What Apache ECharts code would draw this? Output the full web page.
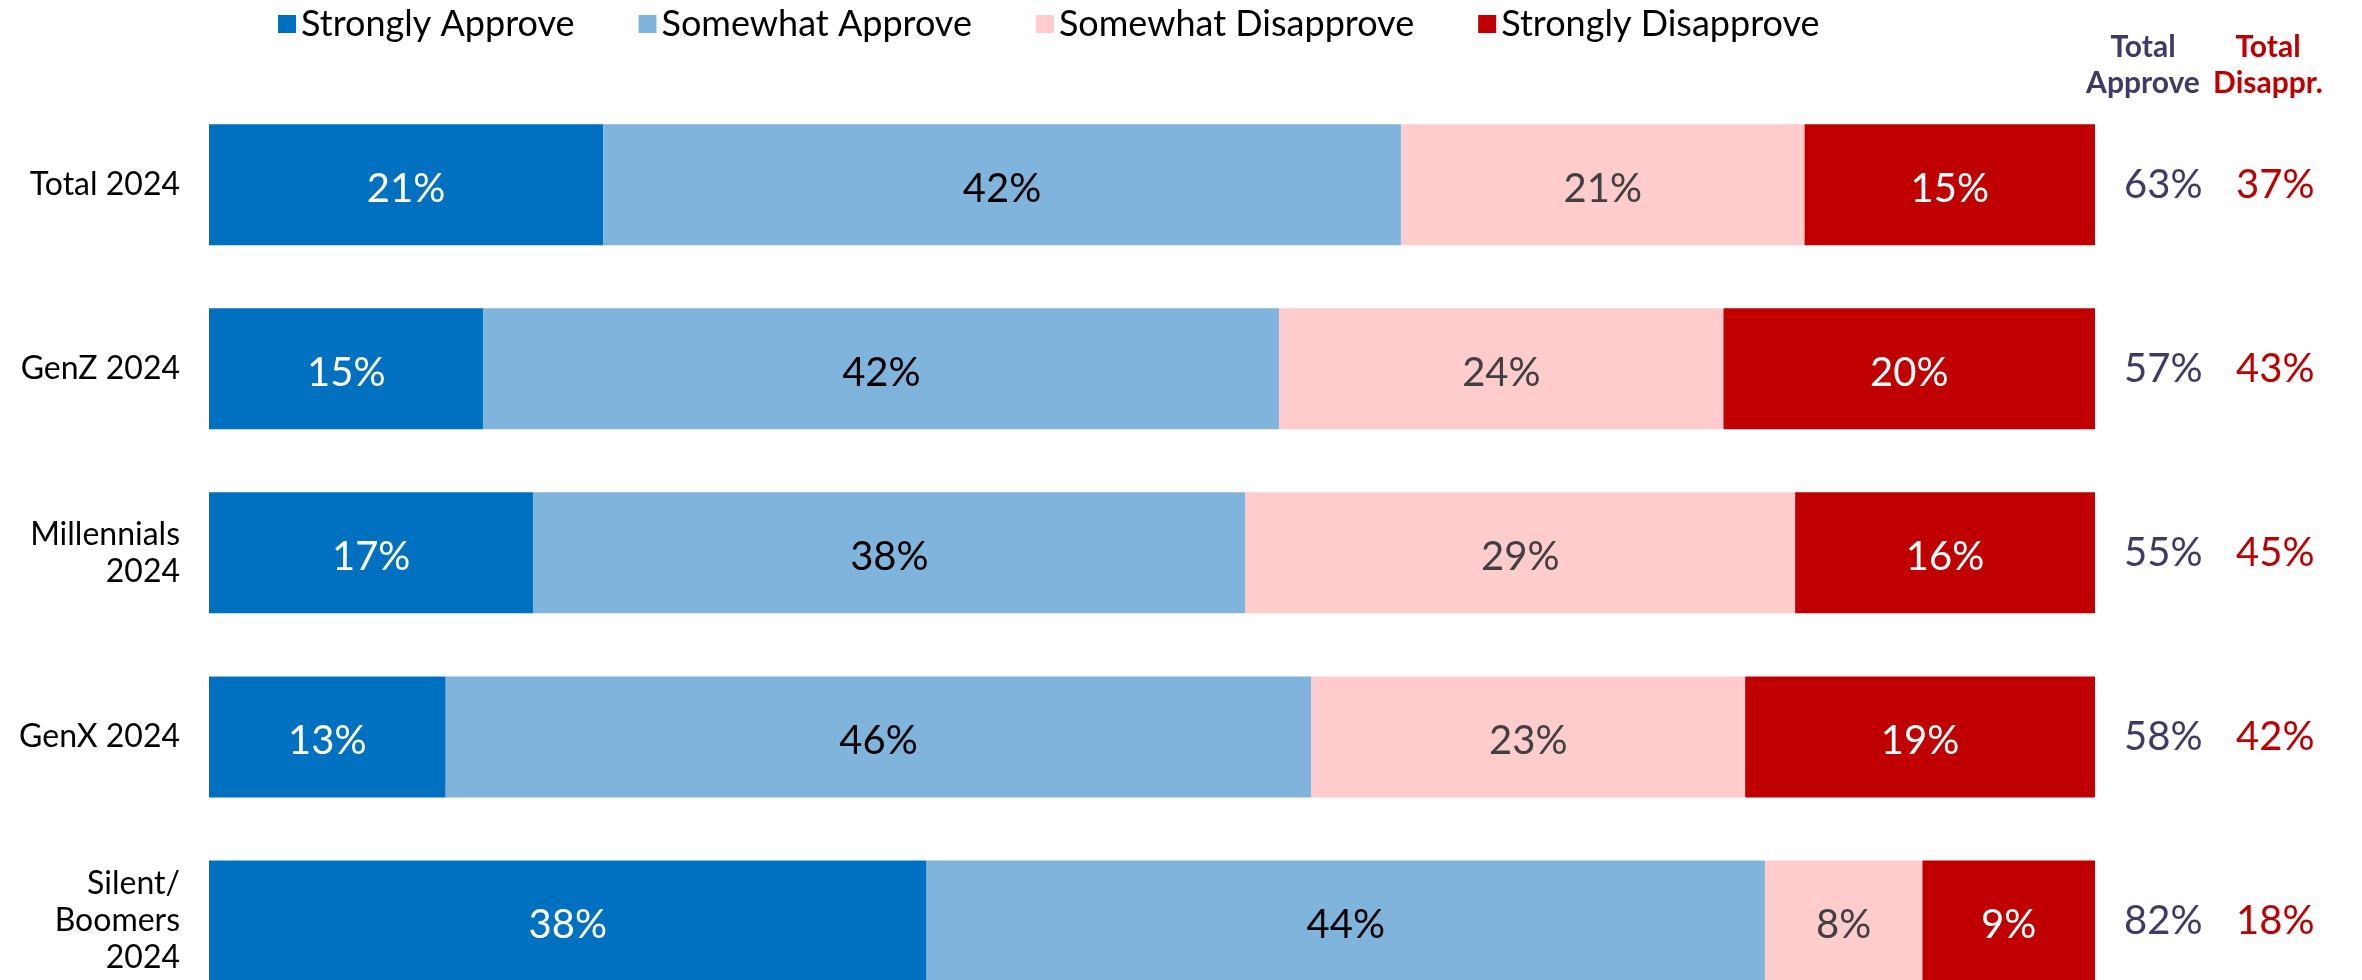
<!DOCTYPE html>
<html><head><meta charset="utf-8">
<script src="https://cdn.jsdelivr.net/npm/echarts@6/dist/echarts.min.js"></script>
<style>html,body{margin:0;padding:0;background:#fff;overflow:hidden}#c{width:2362px;height:1030px}</style>
</head><body><div id="c"></div>
<script>
const categories = ['Total 2024', 'GenZ 2024', 'Millennials\n2024', 'GenX 2024', 'Silent/\nBoomers\n2024'];
const seriesNames = ['Strongly Approve', 'Somewhat Approve', 'Somewhat Disapprove', 'Strongly Disapprove'];
// segment shares
const stronglyApprove    = [20.9, 14.55, 17.2, 12.55, 38.05];
const somewhatApprove    = [42.3, 42.2, 37.75, 45.9, 44.45];
const somewhatDisapprove = [21.4, 23.55, 29.15, 23.0, 8.35];
const stronglyDisapprove = [15.4, 19.7, 15.9, 18.55, 9.15];
// labels as printed
const stronglyApproveLabels    = [21, 15, 17, 13, 38];
const somewhatApproveLabels    = [42, 42, 38, 46, 44];
const somewhatDisapproveLabels = [21, 24, 29, 23, 8];
const stronglyDisapproveLabels = [15, 20, 16, 19, 9];
const totalApprove    = [63, 57, 55, 58, 82];
const totalDisapprove = [37, 43, 45, 42, 18];

const FONT = 'Lato';
const colors = ['#0070C0', '#7FB5DD', '#FFCCCD', '#C00000'];
const labelColors = ['#FFFFFF', '#000000', '#404040', '#FFFFFF'];
const values = [stronglyApprove, somewhatApprove, somewhatDisapprove, stronglyDisapprove];
const labels = [stronglyApproveLabels, somewhatApproveLabels, somewhatDisapproveLabels, stronglyDisapproveLabels];

const chart = echarts.init(document.getElementById('c'));
const hiddenAxis = { axisLine: { show: false }, axisTick: { show: false } };
chart.setOption({
  animation: false,
  color: colors,
  legend: {
    data: seriesNames,
    left: 273, top: 1,
    icon: 'rect', itemWidth: 18, itemHeight: 18, itemGap: 64,
    textStyle: { fontFamily: FONT, fontSize: 36, color: '#000' }
  },
  grid: { left: 209, width: 1886, top: 92.6, height: 920.5, containLabel: false },
  xAxis: { type: 'value', min: 0, max: 100, show: false },
  yAxis: [
    Object.assign({
      type: 'category', data: categories, inverse: true,
      axisLabel: { margin: 29, fontFamily: FONT, fontSize: 32, lineHeight: 37, color: '#000', align: 'right',
        padding: [8, 0, 0, 0] }
    }, hiddenAxis),
    Object.assign({
      type: 'category', data: categories, inverse: true, position: 'right',
      axisLabel: { margin: 29, fontFamily: FONT, fontSize: 40, color: '#3F3B66', padding: [8, 0, 0, 0],
        formatter: (v, i) => totalApprove[i] + '%' }
    }, hiddenAxis),
    Object.assign({
      type: 'category', data: categories, inverse: true, position: 'right',
      axisLabel: { margin: 141, fontFamily: FONT, fontSize: 40, color: '#C00000', padding: [8, 0, 0, 0],
        formatter: (v, i) => totalDisapprove[i] + '%' }
    }, hiddenAxis)
  ],
  graphic: [
    { type: 'text', x: 2143, y: 65, style: { text: 'Total\nApprove', textAlign: 'center', textVerticalAlign: 'middle',
      fontFamily: FONT, fontSize: 30, fontWeight: 'bold', lineHeight: 36, fill: '#3F3B66' } },
    { type: 'text', x: 2268, y: 65, style: { text: 'Total\nDisappr.', textAlign: 'center', textVerticalAlign: 'middle',
      fontFamily: FONT, fontSize: 30, fontWeight: 'bold', lineHeight: 36, fill: '#C00000' } }
  ],
  series: seriesNames.map((name, s) => ({
    name, type: 'bar', stack: 'all', barWidth: 121,
    data: values[s],
    itemStyle: { color: colors[s] },
    label: {
      show: true, position: 'inside', offset: [0, 4],
      fontFamily: FONT, fontSize: 40, color: labelColors[s],
      formatter: p => labels[s][p.dataIndex] + '%'
    }
  }))
});
</script></body></html>
